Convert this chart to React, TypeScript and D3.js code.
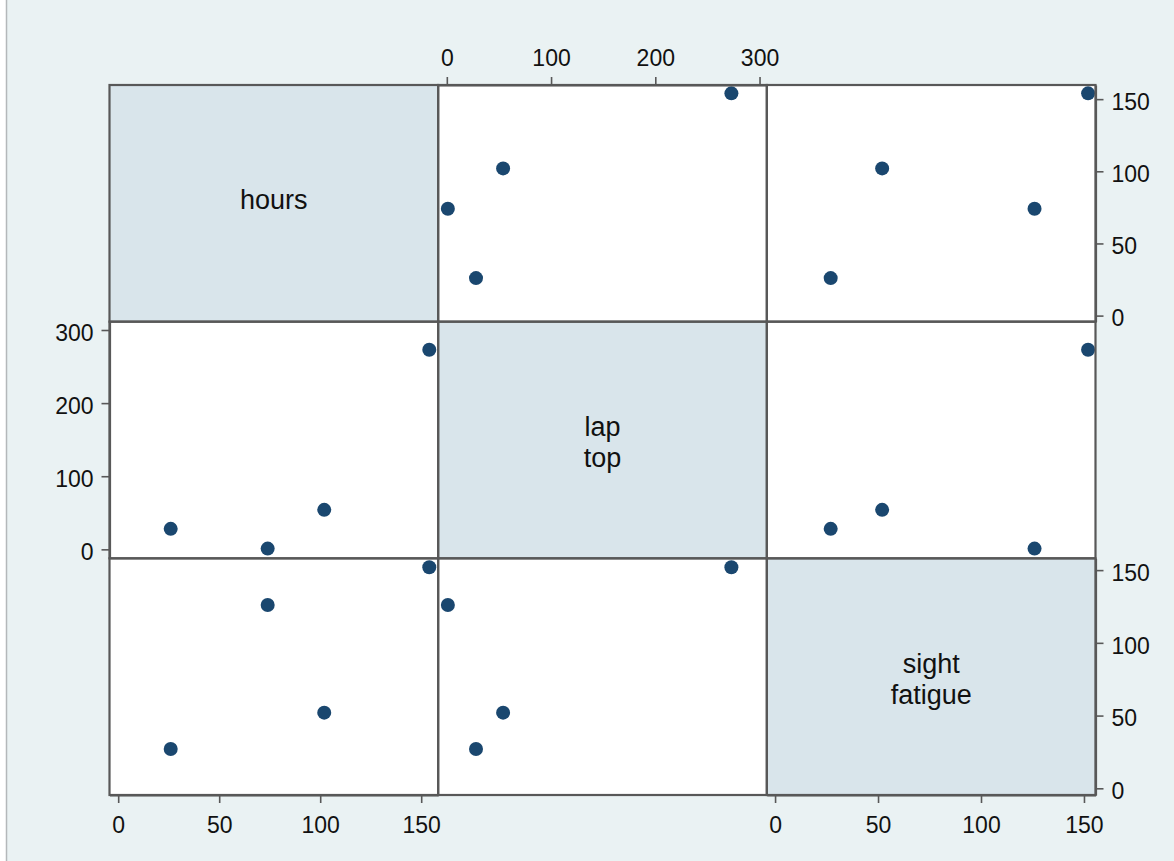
import React, { useEffect, useRef } from 'react';
import * as d3 from 'd3';

// variables of the scatter matrix, in order
const varNames = ['hours', 'laptop', 'sight'];
const varLabels = [['hours'], ['lap', 'top'], ['sight', 'fatigue']];

// the four observations
const hours = [26, 74, 102, 154];
const laptop = [28, 1, 54, 273];
const sight = [27, 126, 52, 152];

const hoursTicks = [0, 50, 100, 150];
const laptopTicks = [0, 100, 200, 300];
const sightTicks = [0, 50, 100, 150];

const W = 1174;
const H = 861;

function App() {
    const chartRef = useRef<SVGSVGElement | null>(null);

    useEffect(() => {
        document.body.style.margin = '0';

        const values: Record<string, number[]> = { hours, laptop, sight };
        const ticks: Record<string, number[]> = { hours: hoursTicks, laptop: laptopTicks, sight: sightTicks };
        // Stata pads the range a little on each side
        const xDomains: Record<string, [number, number]> = { hours: [-4.3, 158.4], laptop: [-8.3, 307], sight: [-4, 155.6] };
        const yDomains: Record<string, [number, number]> = { hours: [-4.2, 159.8], laptop: [-12.3, 311.4], sight: [-4.6, 158.1] };

        const left = 109.5, right = 1095.5, top = 85, bottom = 795;
        const cw = (right - left) / 3;
        const ch = (bottom - top) / 3;
        const font = '"Liberation Sans", Arial, Helvetica, sans-serif';

        const svg = d3.select(chartRef.current);
        svg.selectAll('*').remove();

        // graph region
        svg.append('rect').attr('width', W).attr('height', H).attr('fill', '#eaf2f3');
        svg.append('rect').attr('width', 6).attr('height', H).attr('fill', '#ffffff');
        svg.append('line')
            .attr('x1', 6.5).attr('x2', 6.5).attr('y1', 0).attr('y2', H)
            .attr('stroke', '#b4b8ba').attr('stroke-width', 1.5);

        const xScaleFor = (c: number) => d3.scaleLinear()
            .domain(xDomains[varNames[c]])
            .range([left + c * cw, left + (c + 1) * cw]);
        const yScaleFor = (r: number) => d3.scaleLinear()
            .domain(yDomains[varNames[r]])
            .range([top + (r + 1) * ch, top + r * ch]);

        for (let r = 0; r < 3; r++) {
            for (let c = 0; c < 3; c++) {
                const x0 = left + c * cw;
                const y0 = top + r * ch;
                const diag = r === c;

                svg.append('rect')
                    .attr('x', x0).attr('y', y0)
                    .attr('width', cw).attr('height', ch)
                    .attr('fill', diag ? '#d9e5eb' : '#ffffff');

                if (diag) {
                    const lines = varLabels[r];
                    const cx = x0 + cw / 2;
                    const cy = y0 + ch / 2;
                    const first = lines.length > 1 ? cy - 4 : cy + 5.4;
                    lines.forEach((txt, i) => {
                        svg.append('text')
                            .attr('x', cx)
                            .attr('y', first + i * 31)
                            .attr('text-anchor', 'middle')
                            .style('font-family', font)
                            .style('font-size', '27px')
                            .style('fill', '#111')
                            .text(txt);
                    });
                    continue;
                }

                const xs = xScaleFor(c);
                const ys = yScaleFor(r);
                const xv = values[varNames[c]];
                const yv = values[varNames[r]];

                svg.append('g')
                    .selectAll('circle')
                    .data(d3.range(xv.length))
                    .join('circle')
                    .attr('cx', i => xs(xv[i]))
                    .attr('cy', i => ys(yv[i]))
                    .attr('r', 7)
                    .attr('fill', '#1a476f');
            }
        }

        // panel borders
        for (let r = 0; r < 3; r++) {
            for (let c = 0; c < 3; c++) {
                svg.append('rect')
                    .attr('x', left + c * cw).attr('y', top + r * ch)
                    .attr('width', cw).attr('height', ch)
                    .attr('fill', 'none')
                    .attr('stroke', '#585858')
                    .attr('stroke-width', 2.2);
            }
        }

        const styleAxis = (g: any) => {
            g.select('.domain').attr('stroke', '#585858').attr('stroke-width', 2.2);
            g.selectAll('.tick line').attr('stroke', '#585858').attr('stroke-width', 1.6);
            g.selectAll('.tick text')
                .style('font-family', font)
                .style('font-size', '23px')
                .attr('fill', '#111');
        };

        // top axis: laptop column
        svg.append('g')
            .attr('transform', `translate(0,${top})`)
            .call(d3.axisTop(xScaleFor(1)).tickValues(ticks.laptop).tickSize(8).tickSizeOuter(0).tickPadding(11))
            .call(styleAxis);

        // bottom axes: hours and sight columns
        [0, 2].forEach(c => {
            svg.append('g')
                .attr('transform', `translate(0,${bottom})`)
                .call(d3.axisBottom(xScaleFor(c)).tickValues(ticks[varNames[c]]).tickSize(8).tickSizeOuter(0).tickPadding(14))
                .call(styleAxis);
        });

        // right axes: hours and sight rows
        [0, 2].forEach(r => {
            const g = svg.append('g')
                .attr('transform', `translate(${right},0)`)
                .call(d3.axisRight(yScaleFor(r)).tickValues(ticks[varNames[r]]).tickSize(8).tickSizeOuter(0).tickPadding(8))
                .call(styleAxis);
            g.selectAll('.tick text').attr('dy', '0.45em');
        });

        // left axis: laptop row
        const gl = svg.append('g')
            .attr('transform', `translate(${left},0)`)
            .call(d3.axisLeft(yScaleFor(1)).tickValues(ticks.laptop).tickSize(8).tickSizeOuter(0).tickPadding(8))
            .call(styleAxis);
        gl.selectAll('.tick text').attr('dy', '0.45em');
    }, []);

    return <svg ref={chartRef} width={W} height={H} style={{ display: 'block' }} />;
}

export default App;
